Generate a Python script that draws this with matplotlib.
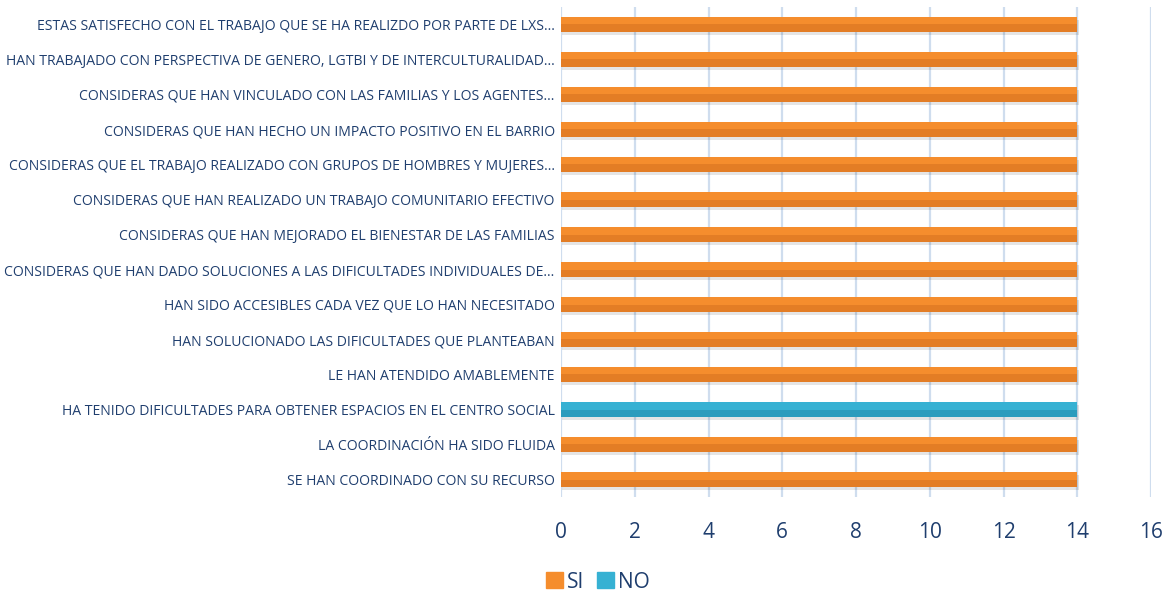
import matplotlib
matplotlib.use("Agg")
import matplotlib.pyplot as plt
from matplotlib import font_manager
from matplotlib.patches import Patch

avail = {f.name for f in font_manager.fontManager.ttflist}
fam = "Liberation Sans Narrow" if "Liberation Sans Narrow" in avail else "Open Sans"
plt.rcParams['font.family'] = [fam, 'DejaVu Sans']

categories = [
    "SE HAN COORDINADO CON SU RECURSO",
    "LA COORDINACIÓN HA SIDO FLUIDA",
    "HA TENIDO DIFICULTADES PARA OBTENER ESPACIOS EN EL CENTRO SOCIAL",
    "LE HAN ATENDIDO AMABLEMENTE",
    "HAN SOLUCIONADO LAS DIFICULTADES QUE PLANTEABAN",
    "HAN SIDO ACCESIBLES CADA VEZ QUE LO HAN NECESITADO",
    "CONSIDERAS QUE HAN DADO SOLUCIONES A LAS DIFICULTADES INDIVIDUALES DE…",
    "CONSIDERAS QUE HAN MEJORADO EL BIENESTAR DE LAS FAMILIAS",
    "CONSIDERAS QUE HAN REALIZADO UN TRABAJO COMUNITARIO EFECTIVO",
    "CONSIDERAS QUE EL TRABAJO REALIZADO CON GRUPOS DE HOMBRES Y MUJERES…",
    "CONSIDERAS QUE HAN HECHO UN IMPACTO POSITIVO EN EL BARRIO",
    "CONSIDERAS QUE HAN VINCULADO CON LAS FAMILIAS Y LOS AGENTES…",
    "HAN TRABAJADO CON PERSPECTIVA DE GENERO, LGTBI Y DE INTERCULTURALIDAD…",
    "ESTAS SATISFECHO CON EL TRABAJO QUE SE HA REALIZDO POR PARTE DE LXS…",
]
si = [14, 14, 0, 14, 14, 14, 14, 14, 14, 14, 14, 14, 14, 14]
no = [0, 0, 14, 0, 0, 0, 0, 0, 0, 0, 0, 0, 0, 0]
xticks = [0, 2, 4, 6, 8, 10, 12, 14, 16]

c_si = "#F58D2D"
c_no = "#36B1D3"
txt = "#1F3E6E"

fig = plt.figure(figsize=(11.67, 5.92), dpi=100)
ax = fig.add_axes([561/1167, 1-497/592, (1151-561)/1167, (497-7)/592])
y = list(range(len(categories)))
h = 0.44
# soft shadow
ax.barh([v - 0.08 for v in y], si, height=h, left=0.04, color="#000000", alpha=0.10, zorder=2)
ax.barh([v - 0.08 for v in y], no, height=h, left=[s + 0.04 for s in si], color="#000000", alpha=0.10, zorder=2)
ax.barh(y, si, height=h, color=c_si, label="SI", zorder=3)
ax.barh(y, no, height=h, left=si, color=c_no, label="NO", zorder=3)
# darker lower band for gradient look
ax.barh([v - h/4 for v in y], si, height=h/2, color="#C9661A", alpha=0.40, zorder=3.5)
ax.barh([v - h/4 for v in y], no, height=h/2, left=si, color="#1F7E9C", alpha=0.40, zorder=3.5)

ax.set_xlim(0, 16)
ax.set_ylim(-0.5, len(categories) - 0.5)
ax.set_xticks(xticks)
ax.set_xticklabels([str(t) for t in xticks])
ax.set_yticks(y)
ax.set_yticklabels(categories)
ax.tick_params(axis="x", length=0, pad=18, labelsize=15, labelcolor=txt)
ax.tick_params(axis="y", length=0, pad=4.5, labelsize=10.05, labelcolor=txt)
ax.grid(axis="x", color="#CFDDEE", linewidth=1.6, zorder=0)
ax.set_axisbelow(True)
for s in ax.spines.values():
    s.set_visible(False)

handles = [Patch(color=c_si, label="SI"), Patch(color=c_no, label="NO")]
fig.legend(handles=handles, loc="center", bbox_to_anchor=(598/1167, 1-582/592), ncol=2,
           frameon=False, fontsize=15, labelcolor=txt, handlelength=0.8, handleheight=0.8,
           handletextpad=0.2, columnspacing=0.6, borderpad=0)
fig.savefig("out.png", dpi=100)
